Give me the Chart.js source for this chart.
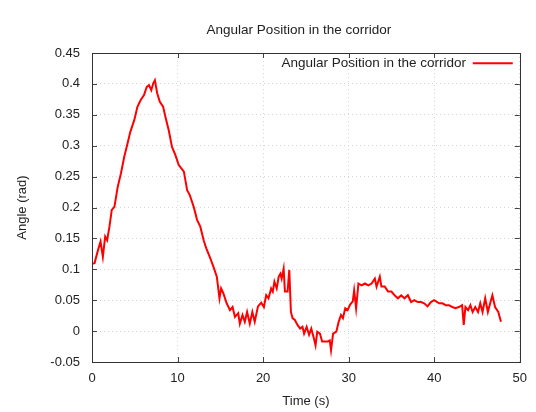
<!DOCTYPE html>
<html>
<head>
<meta charset="utf-8">
<script src="https://cdn.jsdelivr.net/npm/chart.js@4"></script>
<style>
html,body{margin:0;padding:0;background:#fff;}
#wrap{width:536px;height:412px;}
</style>
</head>
<body>
<div id="wrap"><canvas id="c" width="536" height="412"></canvas></div>
<script>
const chartTitle = "Angular Position in the corridor";
const seriesLabel = "Angular Position in the corridor";
const xAxisTitle = "Time (s)";
const yAxisTitle = "Angle (rad)";
const xTicks = [0, 10, 20, 30, 40, 50];
const yTicks = [-0.05, 0, 0.05, 0.1, 0.15, 0.2, 0.25, 0.3, 0.35, 0.4, 0.45];

const timeValues = [
  0.0, 0.3, 0.7, 1.0, 1.27, 1.54, 1.77, 2.04, 2.31, 2.62, 3.0, 3.38, 3.77, 4.16, 4.47, 4.93,
  5.31, 5.69, 6.08, 6.39, 6.66, 6.93, 7.16, 7.35, 7.62, 7.93, 8.31, 8.58, 8.97, 9.35, 9.74,
  10.13, 10.4, 10.74, 11.12, 11.43, 11.89, 12.28, 12.66, 13.05, 13.36, 13.82, 14.2, 14.59,
  14.9, 15.09, 15.36, 15.74, 16.13, 16.43, 16.71, 17.09, 17.28, 17.59, 17.86, 18.13, 18.44,
  18.74, 19.02, 19.4, 19.78, 20.09, 20.36, 20.63, 20.94, 21.13, 21.32, 21.59, 21.82, 22.02,
  22.17, 22.4, 22.55, 22.86, 23.06, 23.25, 23.44, 23.71, 24.02, 24.33, 24.6, 24.79, 25.09,
  25.37, 25.63, 25.94, 26.13, 26.33, 26.64, 26.9, 27.29, 27.56, 27.79, 27.94, 28.18, 28.56,
  28.83, 29.1, 29.33, 29.6, 29.87, 30.17, 30.48, 30.64, 30.87, 31.14, 31.52, 31.9, 32.3,
  32.68, 33.06, 33.26, 33.64, 33.83, 34.22, 34.61, 34.99, 35.37, 35.76, 36.14, 36.52, 36.92,
  37.3, 37.68, 38.07, 38.45, 38.83, 39.22, 39.61, 39.99, 40.57, 40.96, 41.34, 41.72, 42.11,
  42.49, 42.88, 43.26, 43.45, 43.65, 43.96, 44.23, 44.49, 44.8, 45.12, 45.38, 45.65, 45.96,
  46.27, 46.54, 46.8, 47.11, 47.49, 47.8
];
const angleValues = [
  0.109, 0.110, 0.131, 0.145, 0.120, 0.153, 0.147, 0.169, 0.196, 0.201, 0.233, 0.255, 0.282, 0.304, 0.322, 0.341,
  0.363, 0.374, 0.382, 0.395, 0.398, 0.390, 0.401, 0.406, 0.385, 0.371, 0.363, 0.347, 0.325, 0.298, 0.285,
  0.269, 0.264, 0.258, 0.228, 0.220, 0.201, 0.180, 0.169, 0.147, 0.134, 0.118, 0.104, 0.088,
  0.053, 0.069, 0.061, 0.045, 0.034, 0.039, 0.023, 0.029, 0.012, 0.026, 0.015, 0.031, 0.012,
  0.031, 0.015, 0.040, 0.046, 0.039, 0.058, 0.053, 0.069, 0.064, 0.080, 0.069, 0.088, 0.093,
  0.085, 0.101, 0.064, 0.064, 0.099, 0.031, 0.021, 0.018, 0.010, 0.004, 0.007, -0.004, 0.007,
  -0.006, 0.004, -0.012, -0.023, -0.001, -0.004, -0.017, -0.017, -0.017, -0.015, -0.031, -0.004, -0.001,
  0.015, 0.026, 0.021, 0.037, 0.034, 0.043, 0.048, 0.066, 0.037, 0.077, 0.074, 0.077, 0.074,
  0.077, 0.085, 0.072, 0.088, 0.072, 0.072, 0.064, 0.064, 0.058, 0.053, 0.058, 0.053, 0.058,
  0.047, 0.050, 0.047, 0.047, 0.045, 0.040, 0.047, 0.050, 0.045, 0.045, 0.042, 0.042, 0.039,
  0.037, 0.039, 0.042, 0.010, 0.039, 0.034, 0.042, 0.031, 0.039, 0.031, 0.045, 0.031, 0.053,
  0.031, 0.045, 0.058, 0.039, 0.031, 0.015
];

const points = timeValues.map((t, i) => ({x: t, y: angleValues[i]}));
const FONT = {family: "'Liberation Sans', Arial, sans-serif", size: 13};
const BIG = {family: "'Liberation Sans', Arial, sans-serif", size: 13.5};
const TEXT = '#222';

const framePlugin = {
  id: 'frame',
  afterLayout(chart) {
    const lg = chart.legend, ca = chart.chartArea;
    if (lg) {
      const pad = lg.options.labels.padding;
      const w = lg.width;
      lg.left = ca.right - 7 - (w - pad);
      lg.right = lg.left + w;
      const h = lg.height;
      lg.top = ca.top - 6.5;
      lg.bottom = lg.top + h;
    }
    const tb = chart.titleBlock;
    if (tb) {
      tb.left = ca.left - 14;
      tb.right = ca.right;
    }
  },
  afterDatasetsDraw(chart) {
    const {ctx, chartArea: ca, scales} = chart;
    ctx.save();
    ctx.strokeStyle = '#444';
    ctx.lineWidth = 1;
    const L = 5;
    ctx.beginPath();
    scales.x.ticks.forEach(t => {
      const px = Math.round(scales.x.getPixelForValue(t.value)) + 0.5;
      ctx.moveTo(px, ca.bottom); ctx.lineTo(px, ca.bottom - L);
      ctx.moveTo(px, ca.top); ctx.lineTo(px, ca.top + L);
    });
    scales.y.ticks.forEach(t => {
      const py = Math.round(scales.y.getPixelForValue(t.value)) + 0.5;
      ctx.moveTo(ca.left, py); ctx.lineTo(ca.left + L, py);
      ctx.moveTo(ca.right, py); ctx.lineTo(ca.right - L, py);
    });
    ctx.stroke();
    ctx.strokeStyle = '#333';
    ctx.strokeRect(Math.round(ca.left) + 0.5, Math.round(ca.top) + 0.5,
      Math.round(ca.right - ca.left), Math.round(ca.bottom - ca.top));
    ctx.restore();
  }
};

new Chart(document.getElementById('c'), {
  type: 'line',
  data: {
    datasets: [{
      label: seriesLabel,
      data: points,
      borderColor: '#ff0000',
      backgroundColor: '#ff0000',
      borderWidth: 2,
      pointRadius: 0,
      pointStyle: 'line',
      tension: 0,
      fill: false
    }]
  },
  options: {
    responsive: false,
    animation: false,
    devicePixelRatio: 1,
    layout: {padding: {left: 0, right: 11, top: 0, bottom: 0}},
    plugins: {
      title: {
        display: true,
        text: chartTitle,
        color: TEXT,
        font: {...BIG, weight: 'normal'},
        padding: {top: 22, bottom: 14.8}
      },
      legend: {
        display: true,
        position: 'chartArea',
        align: 'start',
        rtl: true,
        labels: {
          color: TEXT,
          font: BIG,
          usePointStyle: true,
          pointStyle: 'line',
          pointStyleWidth: 40,
          boxHeight: 13,
          padding: 10
        }
      },
      tooltip: {enabled: false}
    },
    scales: {
      x: {
        type: 'linear',
        min: xTicks[0],
        max: xTicks[xTicks.length - 1],
        afterBuildTicks(scale) { scale.ticks = xTicks.map(v => ({value: v})); },
        afterFit(scale) { scale.height = 50; },
        ticks: {color: TEXT, font: FONT, padding: 9, maxRotation: 0, callback: v => String(v)},
        grid: {color: '#d6d6d6', drawTicks: false, lineWidth: 1},
        border: {display: false, dash: [1, 3]},
        title: {display: true, text: xAxisTitle, color: TEXT, font: FONT, padding: {top: 0, bottom: 2.7}}
      },
      y: {
        type: 'linear',
        min: yTicks[0],
        max: yTicks[yTicks.length - 1],
        afterBuildTicks(scale) { scale.ticks = yTicks.map(v => ({value: v})); },
        afterFit(scale) { scale.width = 92; },
        ticks: {color: TEXT, font: FONT, padding: 12, callback: v => String(Math.round(v * 100) / 100)},
        grid: {color: '#d6d6d6', drawTicks: false, lineWidth: 1},
        border: {display: false, dash: [1, 3]},
        title: {display: true, text: yAxisTitle, color: TEXT, font: FONT, padding: {top: 14.2, bottom: 0}}
      }
    }
  },
  plugins: [framePlugin]
});
</script>
</body>
</html>
